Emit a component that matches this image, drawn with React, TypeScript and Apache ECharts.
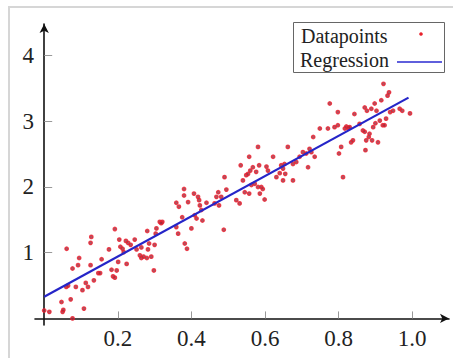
import React, { useEffect, useRef } from "react";
import * as echarts from "echarts";

// Scatter data
const pointsX: number[] = [
  0.014, 0.047, 0.05, 0.052, 0.072, 0.06, 0.065, 0.061, 0.077, 0.086, 0.092, 0.095, 0.104, 0.108, 0.113, 0.119,
  0.126, 0.126, 0.128, 0.135, 0.147, 0.152, 0.156, 0.176, 0.183, 0.187, 0.192, 0.192, 0.197, 0.201, 0.204, 0.207,
  0.213, 0.216, 0.222, 0.224, 0.228, 0.246, 0.251, 0.26, 0.264, 0.264, 0.27, 0.279, 0.282, 0.28, 0.285, 0.291,
  0.298, 0.3, 0.303, 0.305, 0.314, 0.321, 0.359, 0.364, 0.359, 0.366, 0.375, 0.38, 0.38, 0.382, 0.388, 0.391,
  0.4, 0.407, 0.409, 0.414, 0.418, 0.421, 0.423, 0.427, 0.43, 0.441, 0.463, 0.468, 0.473, 0.475, 0.481, 0.488,
  0.49, 0.495, 0.522, 0.531, 0.534, 0.54, 0.545, 0.549, 0.554, 0.557, 0.557, 0.56, 0.563, 0.567, 0.572, 0.576,
  0.581, 0.581, 0.584, 0.586, 0.59, 0.594, 0.599, 0.604, 0.608, 0.622, 0.631, 0.64, 0.644, 0.649, 0.649, 0.653,
  0.662, 0.676, 0.676, 0.685, 0.694, 0.703, 0.712, 0.717, 0.721, 0.726, 0.731, 0.735, 0.749, 0.771, 0.776, 0.789,
  0.798, 0.798, 0.801, 0.807, 0.812, 0.817, 0.821, 0.826, 0.83, 0.834, 0.839, 0.843, 0.857, 0.866, 0.871, 0.871,
  0.873, 0.875, 0.877, 0.882, 0.884, 0.889, 0.891, 0.894, 0.898, 0.9, 0.903, 0.907, 0.912, 0.916, 0.92, 0.922,
  0.925, 0.929, 0.933, 0.937, 0.94, 0.948, 0.966, 0.973, 0.994, 0.077, 0.0, 0.235, 0.318, 0.655
];
const pointsY: number[] = [
  0.1, 0.25, 0.1, 0.13, 0.29, 0.48, 0.5, 1.06, 0.76, 0.48, 0.81, 0.92, 0.43, 0.15, 0.54, 0.48,
  0.81, 1.15, 1.24, 0.58, 0.69, 0.69, 0.9, 1.05, 0.74, 0.64, 0.62, 1.36, 0.73, 0.86, 1.2, 1.09,
  1.06, 1.01, 1.18, 0.83, 1.15, 1.2, 1.05, 0.96, 1.08, 0.92, 0.94, 0.92, 1.05, 1.33, 1.14, 0.94,
  0.73, 1.12, 1.29, 1.37, 1.47, 1.47, 1.39, 1.29, 1.76, 1.7, 1.54, 1.97, 1.87, 1.14, 1.06, 1.77,
  1.37, 1.9, 1.57, 1.52, 1.85, 1.8, 1.72, 1.65, 1.49, 1.76, 1.75, 1.85, 1.92, 1.72, 1.85, 1.35,
  2.15, 1.96, 1.8, 1.75, 2.33, 2.1, 1.92, 2.18, 2.2, 2.46, 1.9, 2.25, 2.03, 2.3, 2.05, 2.23,
  2.0, 2.61, 2.33, 1.9, 2.0, 1.97, 1.81, 2.31, 2.25, 2.46, 2.15, 2.21, 2.33, 2.1, 2.28, 2.35,
  2.61, 2.1, 2.35, 2.38, 2.46, 2.53, 2.51, 2.3, 2.58, 2.53, 2.76, 2.46, 2.89, 2.89, 3.27, 2.91,
  2.94, 3.14, 2.51, 2.61, 2.15, 2.89, 2.92, 2.9, 2.91, 2.68, 2.71, 3.11, 2.96, 2.86, 2.84, 3.21,
  2.56, 2.71, 3.16, 2.76, 2.81, 3.19, 2.71, 2.91, 3.27, 2.97, 3.16, 2.68, 3.01, 3.32, 2.94, 3.57,
  2.94, 3.04, 3.39, 3.44, 3.14, 3.16, 3.19, 3.16, 3.12, 0.0, 0.12, 1.12, 1.45, 2.2
];

// Regression line endpoints
const regressionX: number[] = [0, 0.99];
const regressionY: number[] = [0.33, 3.36];

const xTicks: number[] = [0.2, 0.4, 0.6, 0.8, 1.0];
const yTicks: number[] = [1, 2, 3, 4];

const seriesNames: string[] = ["Datapoints", "Regression"];

const SERIF = "Liberation Serif";

export default function App() {
  const ref = useRef<HTMLDivElement>(null);

  useEffect(() => {
    if (!ref.current) return;
    const chart = echarts.init(ref.current, null, { renderer: "svg" });
    const scatterData = pointsX.map((x, i) => [x, pointsY[i]]);
    const lineData = regressionX.map((x, i) => [x, regressionY[i]]);

    chart.setOption({
      animation: false,
      backgroundColor: "#ffffff",
      textStyle: { fontFamily: SERIF },
      grid: { left: 35, right: 4, top: 24, bottom: 33, containLabel: false },
      xAxis: {
        type: "value",
        min: -0.025,
        max: 1.1,
        splitLine: { show: false },
        axisLine: {
          show: true,
          onZero: true,
          symbol: ["none", "arrow"],
          symbolSize: [7, 9],
          lineStyle: { color: "#111", width: 1.6 },
        },
        axisTick: {
          show: true,
          inside: true,
          length: 7,
          customValues: xTicks,
          lineStyle: { color: "#999", width: 1 },
        },
        axisLabel: {
          customValues: xTicks,
          formatter: (v: number) => v.toFixed(1),
          fontFamily: SERIF,
          fontSize: 23,
          color: "#222",
          margin: 2,
        },
      },
      yAxis: {
        type: "value",
        min: -0.1,
        max: 4.48,
        splitLine: { show: false },
        axisLine: {
          show: true,
          onZero: true,
          symbol: ["none", "arrow"],
          symbolSize: [7, 9],
          lineStyle: { color: "#111", width: 1.6 },
        },
        axisTick: {
          show: true,
          inside: true,
          length: 8,
          customValues: yTicks,
          lineStyle: { color: "#999", width: 1 },
        },
        axisLabel: {
          customValues: yTicks,
          formatter: (v: number) => String(v),
          fontFamily: SERIF,
          fontSize: 23,
          color: "#222",
          margin: 1,
        },
      },
      series: [
        {
          name: seriesNames[0],
          type: "scatter",
          data: scatterData,
          symbol: "circle",
          symbolSize: 3.6,
          itemStyle: { color: "#9a2a3c", borderColor: "#ee1f2e", borderWidth: 1.2 },
          z: 2,
        },
        {
          name: seriesNames[1],
          type: "line",
          data: lineData,
          showSymbol: false,
          symbol: "none",
          lineStyle: { color: "#2525c8", width: 2.2 },
          z: 3,
        },
      ],
      graphic: [
        {
          type: "rect",
          shape: { x: 9, y: 7, width: 470, height: 370 },
          style: { fill: "none", stroke: "#d6d6d6", lineWidth: 2 },
          silent: true,
        },
        {
          type: "rect",
          shape: { x: 293.5, y: 22.5, width: 151, height: 50 },
          style: { fill: "#ffffff", stroke: "#666666", lineWidth: 1 },
          z: 10,
        },
        {
          type: "text",
          x: 301,
          y: 36,
          style: {
            text: seriesNames[0],
            fontFamily: SERIF,
            fontSize: 20,
            fill: "#222",
            verticalAlign: "middle",
          },
          z: 11,
        },
        {
          type: "circle",
          shape: { cx: 421, cy: 34, r: 1.8 },
          style: { fill: "#e8212b" },
          z: 11,
        },
        {
          type: "text",
          x: 300,
          y: 60,
          style: {
            text: seriesNames[1],
            fontFamily: SERIF,
            fontSize: 20,
            fill: "#222",
            verticalAlign: "middle",
          },
          z: 11,
        },
        {
          type: "line",
          shape: { x1: 397, y1: 62, x2: 442, y2: 62 },
          style: { stroke: "#2a2ad0", lineWidth: 1.5 },
          z: 11,
        },
      ],
    });

    return () => {
      chart.dispose();
    };
  }, []);

  return (
    <div
      ref={ref}
      style={{ position: "fixed", left: 0, top: 0, width: 453, height: 358, background: "#fff" }}
    />
  );
}
